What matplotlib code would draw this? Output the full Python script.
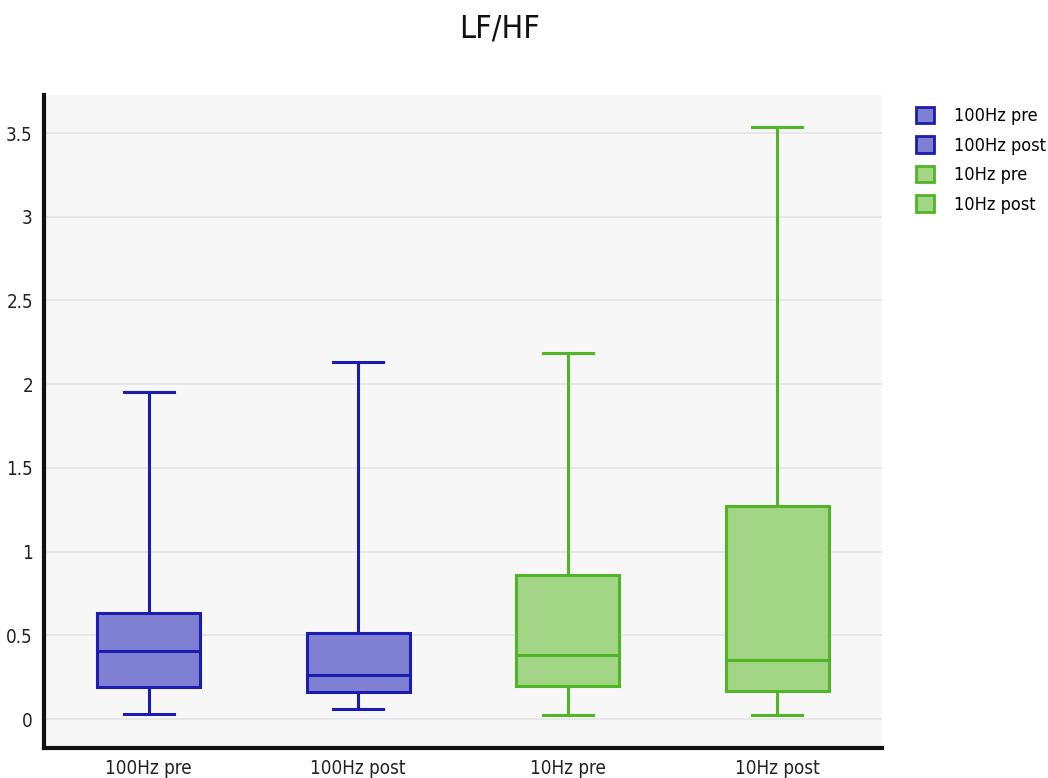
import matplotlib
matplotlib.use("Agg")
import matplotlib.pyplot as plt
from matplotlib.patches import Patch

plt.rcParams["font.family"] = ["DejaVu Sans"]
plt.rcParams["font.stretch"] = "condensed"

categories = ["100Hz pre", "100Hz post", "10Hz pre", "10Hz post"]
whisker_low = [0.03, 0.06, 0.024, 0.024]
q1 = [0.19, 0.16, 0.197, 0.167]
median = [0.406, 0.263, 0.382, 0.352]
q3 = [0.633, 0.514, 0.86, 1.272]
whisker_high = [1.953, 2.133, 2.186, 3.536]

edge_colors = ["#1c1cae", "#1c1cae", "#52b526", "#52b526"]
fill_colors = ["#8080d2", "#8080d2", "#a2d585", "#a2d585"]

fig = plt.figure(figsize=(10.48, 7.78), dpi=100)
ax = fig.add_axes([44 / 1048, 30 / 778, 838 / 1048, 653 / 778])
ax.set_facecolor("#f7f7f7")

stats = []
for i, name in enumerate(categories):
    stats.append(dict(label=name, whislo=whisker_low[i], q1=q1[i], med=median[i],
                      q3=q3[i], whishi=whisker_high[i], fliers=[]))

positions = list(range(len(categories)))
bp = ax.bxp(stats, positions=positions, widths=0.49, patch_artist=True,
            showfliers=False, capwidths=0.24)
for i in range(len(categories)):
    bp["boxes"][i].set(facecolor=fill_colors[i], edgecolor=edge_colors[i], linewidth=2.2, zorder=3)
    bp["medians"][i].set(color=edge_colors[i], linewidth=2.2, zorder=4)
    for w in bp["whiskers"][2 * i:2 * i + 2]:
        w.set(color=edge_colors[i], linewidth=2.2)
    for c in bp["caps"][2 * i:2 * i + 2]:
        c.set(color=edge_colors[i], linewidth=2.2)

ax.set_xlim(-0.5, 3.5)
ax.set_ylim(-0.173, 3.727)
ax.set_yticks([0, 0.5, 1, 1.5, 2, 2.5, 3, 3.5])
ax.set_yticklabels(["0", "0.5", "1", "1.5", "2", "2.5", "3", "3.5"])
ax.set_xticks(positions)
ax.set_xticklabels(categories)
ax.tick_params(axis="both", length=0, labelsize=13.5, colors="#222222")
ax.tick_params(axis="y", pad=8)
ax.tick_params(axis="x", pad=8)
ax.yaxis.grid(True, color="#e4e4e8", linewidth=1.2)
ax.set_axisbelow(True)
for side in ["top", "right"]:
    ax.spines[side].set_visible(False)
for side in ["left", "bottom"]:
    ax.spines[side].set_linewidth(3)
    ax.spines[side].set_color("#111111")

fig.text(500 / 1048, 1 - 29 / 778, "LF/HF", ha="center", va="center", fontsize=23, color="#111111")

handles = [Patch(facecolor=fill_colors[i], edgecolor=edge_colors[i], linewidth=2, label=categories[i])
           for i in range(len(categories))]
fig.legend(handles=handles, loc="upper left", bbox_to_anchor=(916 / 1048, 1 - 107 / 778),
           frameon=False, fontsize=13, handlelength=1.0, handleheight=1.0,
           labelspacing=0.62, handletextpad=1.1, borderaxespad=0, borderpad=0)

fig.savefig("out.png", dpi=100)
